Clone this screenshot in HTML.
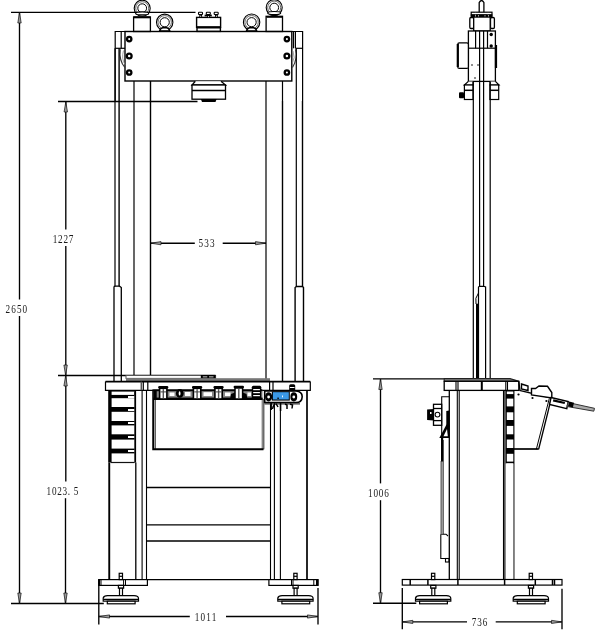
<!DOCTYPE html>
<html><head><meta charset="utf-8">
<style>
html,body{margin:0;padding:0;background:#fff;width:606px;height:631px;overflow:hidden}
svg{display:block}
text{font-family:"Liberation Serif",serif;fill:#1a1a1a}
</style></head>
<body>
<svg width="606" height="631" viewBox="0 0 606 631">
<g fill="none" stroke="#000" stroke-width="1.35">
<!-- ============ LEFT VIEW: dimensions ============ -->
<line x1="11" y1="12.3" x2="195.5" y2="12.3"/>
<line x1="19.5" y1="12.3" x2="19.5" y2="299.5"/>
<line x1="19.5" y1="316" x2="19.5" y2="603.5"/>
<line x1="11" y1="603.5" x2="103.8" y2="603.5"/>
<line x1="58" y1="101.5" x2="197.5" y2="101.5"/>
<line x1="65.8" y1="101.5" x2="65.8" y2="229.6"/>
<line x1="65.8" y1="246" x2="65.8" y2="481.4"/>
<line x1="65.5" y1="498.2" x2="65.5" y2="603.5"/>
<line x1="58" y1="375.5" x2="215.6" y2="375.5"/>
<line x1="150.5" y1="243.2" x2="194.8" y2="243.2"/>
<line x1="222.7" y1="243.2" x2="266" y2="243.2"/>
<line x1="98.8" y1="579.5" x2="98.8" y2="624.5"/>
<line x1="318" y1="588" x2="318" y2="624.5"/>
<line x1="98.8" y1="616.5" x2="189.8" y2="616.5"/>
<line x1="226" y1="616.5" x2="318" y2="616.5"/>
</g>
<g fill="#999" stroke="#111" stroke-width="0.7">
<path d="M19.5 12.5 L17.8 23 L21.2 23 Z"/>
<path d="M19.5 603.3 L17.8 593 L21.2 593 Z"/>
<path d="M65.8 101.8 L64.1 112 L67.5 112 Z"/>
<path d="M65.6 375.3 L63.9 365 L67.3 365 Z"/>
<path d="M65.6 375.8 L63.9 386 L67.3 386 Z"/>
<path d="M65.5 603.3 L63.8 593 L67.2 593 Z"/>
<path d="M150.7 243.2 L161 241.6 L161 244.8 Z"/>
<path d="M265.8 243.2 L255.5 241.6 L255.5 244.8 Z"/>
<path d="M99 616.5 L109.5 614.9 L109.5 618.1 Z"/>
<path d="M317.8 616.5 L307.5 614.9 L307.5 618.1 Z"/>
</g>
<g font-size="12.8" style="filter:grayscale(1)">
<text transform="scale(0.72,1)" x="7.64" y="312.6" textLength="30.13" lengthAdjust="spacing">2650</text>
<text transform="scale(0.72,1)" x="73.33" y="242.8" textLength="28.47" lengthAdjust="spacing">1227</text>
<text transform="scale(0.72,1)" x="64.72" y="494.7" textLength="44.17" lengthAdjust="spacing">1023. 5</text>
<text transform="scale(0.72,1)" x="275.69" y="247.0" textLength="22.50" lengthAdjust="spacing">533</text>
<text transform="scale(0.72,1)" x="270.56" y="621.2" textLength="29.87" lengthAdjust="spacing">1011</text>
<text transform="scale(0.72,1)" x="511.11" y="496.8" textLength="28.89" lengthAdjust="spacing">1006</text>
<text transform="scale(0.72,1)" x="655.28" y="626.2" textLength="21.67" lengthAdjust="spacing">736</text>
</g>

<!-- ============ LEFT VIEW: top ============ -->
<g fill="none" stroke="#000">
<circle cx="142.2" cy="8.2" r="8" stroke-width="1.1"/>
<circle cx="142.2" cy="8.2" r="6.5" stroke-width="0.8" stroke="#444"/>
<circle cx="142.2" cy="8.2" r="4.4" stroke-width="1"/>
<circle cx="164.7" cy="22.3" r="8.2" stroke-width="1.1"/>
<circle cx="164.7" cy="22.3" r="6.7" stroke-width="0.8" stroke="#444"/>
<circle cx="164.7" cy="22.3" r="4.6" stroke-width="1"/>
<circle cx="251.6" cy="22.2" r="8.2" stroke-width="1.1"/>
<circle cx="251.6" cy="22.2" r="6.7" stroke-width="0.8" stroke="#444"/>
<circle cx="251.6" cy="22.2" r="4.6" stroke-width="1"/>
<circle cx="274.2" cy="7.6" r="8" stroke-width="1.1"/>
<circle cx="274.2" cy="7.6" r="6.5" stroke-width="0.8" stroke="#444"/>
<circle cx="274.2" cy="7.6" r="4.4" stroke-width="1"/>
</g>
<g fill="#fff" stroke="#000" stroke-width="1.3">
<path d="M159.6 31 Q160.2 27.6 164.7 27.4 Q169.2 27.6 169.8 31 Z" stroke-width="1.5"/>
<path d="M246.5 31 Q247.1 27.6 251.6 27.4 Q256.1 27.6 256.7 31 Z" stroke-width="1.5"/>
<rect x="133.6" y="16.9" width="16.8" height="14.6"/>
<rect x="266.1" y="16.3" width="16.4" height="15.2"/>
<ellipse cx="142.2" cy="13.4" rx="6.5" ry="1.5" stroke-width="1.1"/>
<ellipse cx="274.2" cy="13" rx="6.5" ry="1.5" stroke-width="1.1"/>
</g>
<g stroke="#000" stroke-width="1.8">
<line x1="134" y1="17.4" x2="150" y2="17.4"/>
<line x1="266.5" y1="16.9" x2="282" y2="16.9"/>
</g>
<!-- central block on top -->
<g fill="#fff" stroke="#000" stroke-width="1.4">
<rect x="196.6" y="17.4" width="24" height="10"/>
<rect x="197" y="27.8" width="23.4" height="3.6"/>
</g>
<rect x="196.6" y="26.2" width="24" height="1.8" fill="#000"/>
<g fill="#000">
<rect x="199.3" y="14" width="2.8" height="3.6"/>
<rect x="207" y="14" width="2.8" height="3.6"/>
<rect x="215" y="14" width="2.8" height="3.6"/>
<rect x="204.6" y="14.6" width="7.2" height="1.8"/>
</g>
<g fill="#fff" stroke="#000" stroke-width="1.1">
<rect x="198.5" y="12.3" width="4" height="2.2" rx="0.6"/>
<rect x="206.3" y="12.3" width="4" height="2.2" rx="0.6"/>
<rect x="214.2" y="12.3" width="4" height="2.2" rx="0.6"/>
</g>
<g fill="#fff"><circle cx="200.7" cy="16.2" r="0.6"/><circle cx="208.4" cy="16.6" r="0.6"/><circle cx="216.4" cy="16.2" r="0.6"/></g>
<!-- plate -->
<g fill="none" stroke="#000" stroke-width="1.2">
<path d="M115.2 101 L115.2 31.5 L302.6 31.5 L302.6 101"/>
<rect x="125" y="31.5" width="166.8" height="49.5" stroke-width="1.4"/>
<line x1="121.2" y1="31.5" x2="121.2" y2="48.3"/>
<line x1="115.2" y1="48.3" x2="125" y2="48.3"/>
<line x1="293.5" y1="31.5" x2="293.5" y2="48.3"/>
<line x1="295.4" y1="31.5" x2="295.4" y2="48.3"/>
<line x1="295.4" y1="48.3" x2="302.6" y2="48.3"/>
<line x1="134" y1="81" x2="134" y2="101"/>
<line x1="282.5" y1="81" x2="282.5" y2="101"/>
</g>
<g fill="none" stroke="#555" stroke-width="0.9">
<path d="M120.3 49.3 Q118.8 61 125 67.5" stroke="#333" stroke-width="1.1"/>
<path d="M123.5 50.5 Q121.2 59 125 64.5" stroke="#888" stroke-width="0.8"/>
<path d="M295.5 49.3 Q298 58 292.5 67.5" stroke="#333" stroke-width="1.1"/>
<path d="M293 51 Q295.5 58 292.5 63" stroke="#888" stroke-width="0.8"/>
</g>
<g fill="none" stroke="#000" stroke-width="2.3">
<circle cx="129.2" cy="39.1" r="2.2"/>
<circle cx="129.2" cy="56" r="2.4"/>
<circle cx="129.2" cy="72.5" r="2.2"/>
<circle cx="286.9" cy="39.1" r="2.2"/>
<circle cx="286.9" cy="56" r="2.4"/>
<circle cx="286.9" cy="72.5" r="2.2"/>
</g>
<!-- under-plate unit -->
<g fill="#fff" stroke="#000" stroke-width="1.3">
<path d="M195.3 81.2 L192 85 L225.5 85 L221 81.2"/>
<rect x="192" y="85" width="33.5" height="14.2"/>
<line x1="192" y1="90.5" x2="225.5" y2="90.5" stroke-width="1.6"/>
</g>
<path d="M200.8 99 L216.6 99 L215.5 101.9 L202 101.9 Z" fill="#000"/>
<!-- columns -->
<g fill="none" stroke="#000" stroke-width="1.2">
<line x1="115" y1="48.3" x2="115" y2="286.2"/>
<line x1="119.1" y1="48.3" x2="119.1" y2="286.2" stroke-width="1.4"/>
<line x1="134" y1="101" x2="134" y2="381"/>
<line x1="150.5" y1="81" x2="150.5" y2="381" stroke-width="1.4"/>
<line x1="266" y1="81" x2="266" y2="381"/>
<line x1="282.5" y1="101" x2="282.5" y2="381" stroke-width="1.4"/>
<line x1="296.3" y1="48.3" x2="296.3" y2="286.5"/>
<line x1="302.5" y1="101" x2="302.5" y2="286.5" stroke-width="1.4"/>
<path d="M114 381 L114 287 Q114 286.2 115.5 286.2 L119.5 286.2 L121.3 287.5 L121.3 381" stroke-width="1.3"/>
<path d="M295.1 381 L295.1 287.5 L296.5 286.5 L302.5 286.5 L303.5 287.5 L303.5 381" stroke-width="1.4"/>
</g>

<!-- ============ LEFT VIEW: base ============ -->
<!-- thin plate on table -->
<g fill="#fff" stroke="#000" stroke-width="1">
<rect x="126" y="375.5" width="89.6" height="2.9" stroke="#555"/>
</g>
<rect x="200.8" y="375" width="14.8" height="3.6" fill="#000"/>
<rect x="202.8" y="376.3" width="4.5" height="1.1" fill="#bbb"/>
<rect x="209" y="376.3" width="4.5" height="1.1" fill="#bbb"/>
<!-- table top -->
<rect x="126" y="378.2" width="144" height="3" fill="#777"/>
<line x1="105.5" y1="381.6" x2="310.3" y2="381.6" stroke="#000" stroke-width="1.8"/>
<g fill="none" stroke="#000" stroke-width="1.2">
<path d="M105.5 381.6 L105.5 390.3 L310.3 390.3 L310.3 381.6"/>
<line x1="141.3" y1="381.6" x2="141.3" y2="390.3" stroke-width="1.5" stroke="#555"/>
<line x1="143.3" y1="381.6" x2="143.3" y2="390.3"/>
<line x1="147.8" y1="381.6" x2="147.8" y2="390.3"/>
<line x1="269.6" y1="381.6" x2="269.6" y2="390.3"/>
<line x1="273" y1="381.6" x2="273" y2="390.3"/>
</g>
<!-- left cabinet -->
<rect x="108.2" y="390.3" width="2.8" height="72.3" fill="#000"/><rect x="108.3" y="462.6" width="1.9" height="117" fill="#000"/>
<line x1="135.2" y1="390.3" x2="135.2" y2="462.6" stroke="#000" stroke-width="1.8"/><line x1="135.8" y1="462.6" x2="135.8" y2="579.5" stroke="#000" stroke-width="1.3"/>
<rect x="111" y="390.3" width="23.5" height="72" fill="#000"/>
<g fill="#fff">
<rect x="111.6" y="391.6" width="22.4" height="3.3"/>
<rect x="111.6" y="398.2" width="22.6" height="8.8"/>
<rect x="111.6" y="411.8" width="22.6" height="9.2"/>
<rect x="111.6" y="425.4" width="22.6" height="8.9"/>
<rect x="111.6" y="439.6" width="22.6" height="9"/>
<rect x="111.6" y="453.4" width="22.6" height="8.5"/>
<rect x="128" y="396" width="6.2" height="2"/>
<rect x="128" y="409" width="6.2" height="2"/>
<rect x="128" y="422" width="6.2" height="2"/>
<rect x="128" y="436" width="6.2" height="2"/>
<rect x="128" y="450" width="6.2" height="2"/>
</g>
<line x1="111" y1="462.6" x2="134.5" y2="462.6" stroke="#000" stroke-width="1"/>
<!-- posts -->
<g fill="none" stroke="#000" stroke-width="1.1">
<line x1="142.1" y1="390.3" x2="142.1" y2="579.5"/>
<line x1="146.5" y1="390.3" x2="146.5" y2="585.2"/>
<line x1="270.5" y1="390.3" x2="270.5" y2="585.2"/>
<line x1="274.4" y1="402" x2="274.4" y2="579.5"/>
<line x1="280.4" y1="402" x2="280.4" y2="579.5"/>
<line x1="307" y1="390.3" x2="307" y2="579.5" stroke-width="1.7"/>
<rect x="261.6" y="399" width="2.4" height="50.3" fill="#888" stroke="none"/><line x1="264" y1="399" x2="264" y2="449.3" stroke-width="0.7" stroke="#333"/>
<line x1="146.5" y1="487.5" x2="270.5" y2="487.5" stroke-width="1.3"/>
<line x1="146.5" y1="524.8" x2="270.5" y2="524.8" stroke-width="1.3"/>
<line x1="146.5" y1="541" x2="270.5" y2="541" stroke-width="1.3"/>
</g>
<!-- panel -->
<g fill="none" stroke="#000">
<path d="M262 390.5 L153.2 390.5 L153.2 449.3 L263.5 449.3" stroke-width="1.9"/>
<line x1="155.2" y1="399" x2="155.2" y2="449" stroke-width="0.9"/>
<line x1="153.2" y1="399" x2="262.5" y2="399" stroke-width="1.8"/>
</g>
<!-- knob band -->
<rect x="153.2" y="390.3" width="109.3" height="8.7" fill="#888"/>
<g fill="#000">
<rect x="153.2" y="389.6" width="109.3" height="1.6"/>
<rect x="153.2" y="397.6" width="109.3" height="2"/>
<rect x="153.2" y="390" width="3.5" height="9"/>
</g>
<g fill="#fff">
<rect x="169.5" y="392.5" width="5" height="3.5"/>
<rect x="185" y="392" width="5.5" height="4"/>
<rect x="203.5" y="392.2" width="8.5" height="3.8"/>
<rect x="225" y="392.5" width="5.5" height="3.5"/>
<rect x="247.5" y="392.5" width="3.5" height="3.5"/>
</g>
<!-- knobs -->
<rect x="158.2" y="385.9" width="10.1" height="2.6" rx="1.2" fill="#000"/><rect x="159.6" y="388.3" width="7.3" height="10.7" fill="#fff" stroke="#000" stroke-width="1.6"/><rect x="162.6" y="389.1" width="1.4" height="9.1" fill="#555"/><rect x="160.4" y="391.4" width="5.7" height="1" fill="#444"/>
<ellipse cx="179.8" cy="393.4" rx="3.9" ry="4.4" fill="#000"/><ellipse cx="179.6" cy="393.4" rx="0.9" ry="2.2" fill="#fff"/>
<rect x="192" y="385.9" width="10.2" height="2.6" rx="1.2" fill="#000"/><rect x="193.4" y="388.3" width="7.4" height="10.7" fill="#fff" stroke="#000" stroke-width="1.6"/><rect x="196.4" y="389.1" width="1.4" height="9.1" fill="#555"/><rect x="194.2" y="391.4" width="5.8" height="1" fill="#444"/>
<rect x="213.5" y="385.9" width="10.1" height="2.6" rx="1.2" fill="#000"/><rect x="214.9" y="388.3" width="7.3" height="10.7" fill="#fff" stroke="#000" stroke-width="1.6"/><rect x="217.9" y="389.1" width="1.4" height="9.1" fill="#555"/><rect x="215.7" y="391.4" width="5.7" height="1" fill="#444"/>
<rect x="233.6" y="385.7" width="10.4" height="2.6" rx="1.2" fill="#000"/><rect x="235" y="388" width="7.6" height="11" fill="#fff" stroke="#000" stroke-width="1.5"/><rect x="238.1" y="388.8" width="1.4" height="9.5" fill="#555"/><path d="M230 399 L231 394 L235 392.5 L235 399 Z M247.5 399 L246.5 394 L242.6 392.5 L242.6 399 Z" fill="#000"/>
<rect x="251.8" y="385.7" width="9.5" height="13.3" rx="1.5" fill="#000"/>
<g fill="#fff">
<rect x="253.2" y="389" width="6.7" height="1.2"/>
<rect x="253.2" y="392" width="6.7" height="1.2"/>
<rect x="253.2" y="395" width="6.7" height="1.2"/>
</g>
<!-- display housing -->
<path d="M264.7 391 L296 391 Q302.2 391.5 302.2 396.7 Q302 402.5 296 402.5 L264.7 402.5 Z" fill="#fff" stroke="#000" stroke-width="1.6"/>
<ellipse cx="268.6" cy="396.8" rx="3.6" ry="4.6" fill="#000"/>
<ellipse cx="293.8" cy="396.8" rx="3.4" ry="4.6" fill="#000"/>
<rect x="271.8" y="391.4" width="18" height="9.2" fill="#000"/>
<rect x="272.9" y="392.2" width="15.9" height="7.3" fill="#3b99e6"/>
<rect x="277.3" y="397.6" width="1.6" height="1.3" fill="#000"/>
<rect x="282" y="395.5" width="0.9" height="1.8" fill="#fff"/>
<circle cx="268.6" cy="397" r="1.4" fill="#fff"/>
<circle cx="293.8" cy="397" r="1.4" fill="#fff"/>
<g fill="#000">
<rect x="289.2" y="384.3" width="6" height="7" rx="1.5"/>
</g>
<rect x="289.9" y="387" width="4.6" height="1" fill="#fff"/>
<g fill="none" stroke="#000" stroke-width="1.5">
<path d="M264.5 403.8 L300 403.8" stroke-width="1.2" stroke="#333"/>
<path d="M271.2 403 L271.2 410 M275 403.5 Q273 406 272.5 409 M280.6 403 L280.6 411 M285 404 L287 405 L287 409 M290 404 L292.5 405 L292 408.5 M276 403.5 L278 407"/>
</g>
<!-- base -->
<g fill="#fff" stroke="#000" stroke-width="1.2">
<rect x="98.8" y="579.6" width="48.6" height="5.8"/>
<rect x="268.9" y="579.6" width="49.1" height="5.8"/>
</g>
<line x1="147.4" y1="579.6" x2="268.9" y2="579.6" stroke="#000" stroke-width="1.2"/>
<rect x="98.2" y="579.2" width="1.9" height="6.6" fill="#000"/>
<rect x="316" y="579.2" width="2.4" height="6.6" fill="#000"/>
<g stroke="#000" stroke-width="1">
<line x1="101" y1="579.6" x2="101" y2="585.4"/>
<line x1="123.6" y1="579.6" x2="123.6" y2="585.4"/>
<line x1="125.5" y1="579.6" x2="125.5" y2="585.4"/>
<line x1="291.5" y1="579.6" x2="291.5" y2="585.4"/>
<line x1="293" y1="579.6" x2="293" y2="585.4"/>
<line x1="313.8" y1="579.6" x2="313.8" y2="585.4"/>
</g>
<!-- feet -->
<g id="footL" fill="#fff" stroke="#000" stroke-width="1.2">
<rect x="119.2" y="573.3" width="3.3" height="6.3"/>
<line x1="119.2" y1="576.3" x2="122.5" y2="576.3"/>
<rect x="118.4" y="585.4" width="5.2" height="2.8"/>
<rect x="119.5" y="588.2" width="3" height="7.4"/>
<path d="M103.2 601.2 L103.2 598 Q103.8 595.6 107.5 595.6 L134 595.6 Q138.5 595.6 138.5 598.5 L138.5 601.2 Z"/>
<line x1="103.2" y1="599.3" x2="138.5" y2="599.3"/>
<rect x="107.3" y="601.2" width="27.8" height="2.6"/>
</g>
<use href="#footL" x="174.6" y="0"/>

<!-- ============ SIDE VIEW ============ -->
<g fill="none" stroke="#000" stroke-width="1.35">
<line x1="373" y1="378.8" x2="444.2" y2="378.8"/>
<line x1="380.5" y1="379" x2="380.5" y2="483.4"/>
<line x1="380.5" y1="500.2" x2="380.5" y2="603.2"/>
<line x1="373" y1="603.2" x2="416.3" y2="603.2"/>
<line x1="402.3" y1="588" x2="402.3" y2="629.3"/>
<line x1="562" y1="588.7" x2="562" y2="629.3"/>
<line x1="402.3" y1="621.9" x2="467" y2="621.9"/>
<line x1="495.7" y1="621.9" x2="562" y2="621.9"/>
</g>
<g fill="#999" stroke="#111" stroke-width="0.7">
<path d="M380.5 379.3 L378.8 389.5 L382.2 389.5 Z"/>
<path d="M380.5 603 L378.8 592.7 L382.2 592.7 Z"/>
<path d="M402.5 621.9 L412.8 620.3 L412.8 623.5 Z"/>
<path d="M561.8 621.9 L551.5 620.3 L551.5 623.5 Z"/>
</g>
<!-- top assembly -->
<g fill="#fff" stroke="#000" stroke-width="1.3">
<path d="M479.2 13.5 L479.2 2.5 Q481.6 -1.5 483.9 2.5 L483.9 13.5"/>
<rect x="469.8" y="17.5" width="3.9" height="11" rx="1.2"/>
<rect x="490.5" y="17.5" width="3.9" height="11" rx="1.2"/>
<rect x="473.7" y="17" width="16.5" height="14"/>
<rect x="468.4" y="31" width="27" height="50.4"/>
<rect x="457.8" y="42.9" width="10.6" height="25.5" rx="1.5"/>
</g>
<rect x="471.2" y="12.2" width="20.8" height="2.6" fill="#fff" stroke="#000" stroke-width="1.2"/>
<rect x="470.6" y="14.6" width="22" height="2.6" fill="#000"/>
<g fill="#fff"><rect x="475" y="12.9" width="0.9" height="1.3"/><rect x="487.5" y="12.9" width="0.9" height="1.3"/>
<circle cx="475.5" cy="15.8" r="0.6"/><circle cx="478.5" cy="15.8" r="0.6"/><circle cx="485" cy="15.8" r="0.6"/><circle cx="488.5" cy="15.8" r="0.6"/></g>
<g fill="none" stroke="#000" stroke-width="1.2">
<line x1="475.6" y1="31" x2="475.6" y2="48.2"/>
<line x1="479.6" y1="31" x2="479.6" y2="286.3"/>
<line x1="483.6" y1="31" x2="483.6" y2="286.3"/>
<line x1="487.5" y1="31" x2="487.5" y2="48.2"/>
<line x1="468.4" y1="48.2" x2="495.4" y2="48.2"/>
<line x1="457.8" y1="44" x2="457.8" y2="67" stroke-width="2.2"/>
<line x1="496" y1="45" x2="496" y2="68" stroke-width="2.2"/>
</g>
<g fill="#000">
<circle cx="491.2" cy="34.5" r="1.7"/>
<circle cx="491.2" cy="46" r="1.7"/>
<circle cx="472" cy="65" r="0.8"/>
<circle cx="478" cy="65" r="0.8"/>
<circle cx="475" cy="78" r="0.8"/>
</g>
<g fill="#fff" stroke="#000" stroke-width="1.2">
<path d="M468.4 81.4 L464.4 85 L473 85 L473 81.4"/>
<path d="M495.4 81.4 L499 85 L490 85 L490 81.4"/>
<rect x="464.4" y="85" width="8.6" height="14.5"/>
<rect x="489.9" y="85" width="8.8" height="14.5"/>
<line x1="464.4" y1="90.3" x2="473" y2="90.3" stroke-width="1.5"/>
<line x1="489.9" y1="90.3" x2="498.7" y2="90.3" stroke-width="1.5"/>
</g>
<rect x="459" y="92.2" width="5" height="6" rx="1" fill="#000"/>
<!-- side columns -->
<g fill="none" stroke="#000" stroke-width="1.2">
<line x1="473.3" y1="81.4" x2="473.3" y2="381"/>
<line x1="490.2" y1="81.4" x2="490.2" y2="381"/>
<path d="M478.5 381 L478.5 287 L479.5 286.3 L483.7 286.3 L485.6 287 L485.6 381"/>
</g>
<rect x="476" y="303.7" width="2.8" height="77" fill="#000"/>
<path d="M478.5 293 Q474.5 298 476 304" fill="none" stroke="#000" stroke-width="1"/>
<!-- side table -->
<g fill="#fff" stroke="#000" stroke-width="1.2">
<path d="M444.2 378.6 L510 378.6 L519 381.3 L444.2 381.3 Z" fill="#888" stroke="#222" stroke-width="1.1"/>
<rect x="444.2" y="381.3" width="74.6" height="9.1" stroke-width="1.3"/>
</g>
<g fill="none" stroke="#000" stroke-width="1.1">
<line x1="456" y1="381.3" x2="456" y2="390.4"/>
<line x1="458" y1="381.3" x2="458" y2="390.4"/>
<line x1="481.8" y1="381.3" x2="481.8" y2="390.4" stroke-width="2"/>
<line x1="505.8" y1="381.3" x2="505.8" y2="390.4"/>
<line x1="507.5" y1="381.3" x2="507.5" y2="390.4"/>
<line x1="449.3" y1="390.4" x2="449.3" y2="579.3" stroke-width="1.3"/>
<line x1="457.3" y1="390.4" x2="457.3" y2="579.3"/>
<line x1="459.2" y1="390.4" x2="459.2" y2="579.3"/>
<line x1="503.5" y1="390.4" x2="503.5" y2="579.3"/>
<line x1="504.9" y1="390.4" x2="504.9" y2="579.3"/>
<line x1="513.8" y1="390.4" x2="513.8" y2="579.3" stroke-width="1.3"/>
</g>
<!-- side drawers -->
<rect x="505.6" y="390.4" width="8.4" height="73" fill="#000"/>
<g fill="#fff">
<rect x="506.8" y="391.5" width="6.5" height="2.6"/>
<rect x="506.8" y="398.6" width="6.5" height="7.8"/>
<rect x="506.8" y="412.3" width="6.5" height="7.7"/>
<rect x="506.8" y="425.9" width="6.5" height="8.4"/>
<rect x="506.8" y="439.5" width="6.5" height="8.5"/>
<rect x="506.8" y="453.8" width="6.5" height="7.8"/>
<rect x="506.4" y="463.4" width="7" height="116"/>
</g>
<line x1="514" y1="449" x2="538.6" y2="449" stroke="#000" stroke-width="1.7"/>
<!-- side panel (left) -->
<g fill="none" stroke="#000" stroke-width="1.1">
<path d="M449.3 396.8 L441.7 396.8 L441.7 437"/>
<line x1="443.4" y1="440" x2="443.4" y2="534.2" stroke="#444" stroke-width="0.9"/>
<path d="M440.8 534.2 L440.8 558.5 L449 558.5"/>
<path d="M440.8 534.2 L446 534.2 L448 536"/>
<rect x="445.5" y="558.5" width="3.5" height="3.5"/>
</g>
<rect x="440.4" y="461" width="2.3" height="73.2" fill="#777"/>
<rect x="441" y="436" width="2.2" height="25.5" fill="#000"/>
<path d="M446.3 411 L449.3 410.5 L449.3 427 L446.3 427 Z" fill="#000"/>
<path d="M439.3 438 L446.5 424.5 L449.5 424.5 L449.5 438 Z" fill="#000"/>
<path d="M443.5 436.3 L447 429 L447.8 436.3 Z" fill="#fff"/>
<!-- side knob -->
<g fill="#fff" stroke="#000" stroke-width="1.3">
<rect x="433.5" y="404.3" width="8.2" height="21"/>
<line x1="433.5" y1="408.5" x2="441.7" y2="408.5"/>
<line x1="433.5" y1="420.6" x2="441.7" y2="420.6"/>
</g>
<path d="M427.1 409.5 L433.5 409 L433.5 420.5 L427.1 420 Z" fill="#000"/>
<circle cx="437.5" cy="414.6" r="2.4" fill="none" stroke="#000" stroke-width="1.1"/>
<rect x="430" y="412" width="1.5" height="2" fill="#fff"/>
<!-- angled control panel -->
<g fill="none" stroke="#000" stroke-width="1.3">
<path d="M538.6 449.4 L551.4 398"/>
<path d="M536.3 449.4 L549.3 398.5" stroke-width="1"/>
<path d="M519.4 390.4 L551.4 398" stroke-width="1.4"/>
<line x1="518.8" y1="381.3" x2="520" y2="390.4"/>
</g>
<g fill="#fff" stroke="#000" stroke-width="1.4">
<path d="M531.5 395 L531.5 388.5 L535.5 388.5 L539 386 L547.5 386.3 L551.8 392.5 L551.8 398 Z"/>
<path d="M551 397.5 L568.2 401.5 L566.8 408.7 L549.6 404.5 Z"/>
<path d="M568 402.5 L594.5 408.3 L593.8 411.2 L567 406.5 Z" stroke-width="1" fill="#aaa" stroke="#333"/>
<path d="M521.5 384 L528 386 L528 390.5 L521.5 389 Z"/>
</g>
<g fill="#000">
<rect x="553" y="400.5" width="12" height="2.3" transform="rotate(13 559 401.6)"/>
<rect x="568.5" y="402" width="5" height="5" transform="rotate(13 571 404.5)"/>
<circle cx="518.5" cy="394.5" r="1.1"/>
<circle cx="532.5" cy="398" r="1.1"/>
<circle cx="546.4" cy="401" r="1.1"/>
</g>
<!-- side base -->
<rect x="402.3" y="579.5" width="159.7" height="5.6" fill="#fff" stroke="#000" stroke-width="1.2"/>
<g fill="none" stroke="#000" stroke-width="1.5">
<line x1="410.2" y1="579.5" x2="410.2" y2="585"/>
<line x1="427.9" y1="579.5" x2="427.9" y2="585"/>
<line x1="457.9" y1="579.5" x2="457.9" y2="585"/>
<line x1="504.6" y1="579.5" x2="504.6" y2="585"/>
<line x1="535.3" y1="579.5" x2="535.3" y2="585"/>
<line x1="552.5" y1="579.5" x2="552.5" y2="585"/>
<line x1="554.5" y1="579.5" x2="554.5" y2="585"/>
</g>
<use href="#footL" x="312.3" y="0"/>
<use href="#footL" x="410" y="0"/>
</svg>
</body></html>
